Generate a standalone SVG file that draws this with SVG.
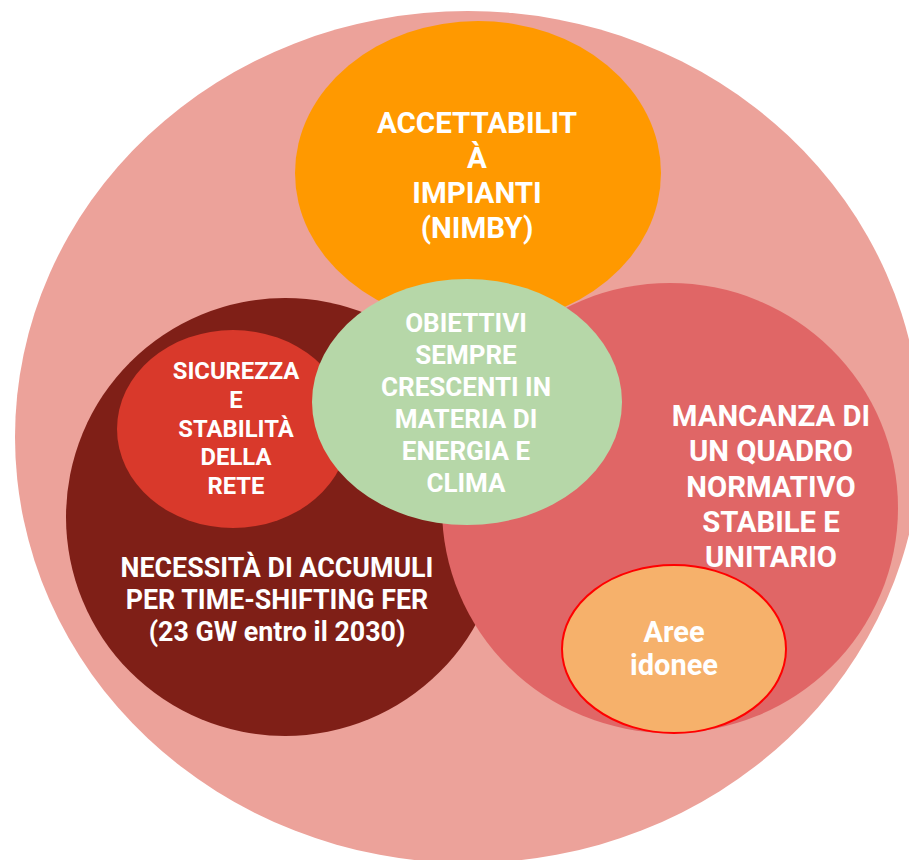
<svg xmlns="http://www.w3.org/2000/svg" width="909" height="860" viewBox="0 0 909 860">
<style>
text{font-family:Roboto,"Liberation Sans",sans-serif;font-weight:bold;fill:#ffffff;text-anchor:middle}
</style>
<rect width="909" height="860" fill="#ffffff"/>
<g id="outer"><ellipse cx="468" cy="437" rx="453" ry="426" fill="#ECA29A"/></g>
<g id="accettabilita">
<ellipse cx="478" cy="173" rx="183" ry="152" fill="#FF9900"/>
<text font-size="29.5"><tspan x="477" y="133">ACCETTABILIT</tspan><tspan x="477" y="168">À</tspan><tspan x="477" y="203">IMPIANTI</tspan><tspan x="477" y="238">(NIMBY)</tspan></text>
</g>
<g id="necessita">
<ellipse cx="285" cy="517" rx="219" ry="219" fill="#7F1F17"/>
<text font-size="26.8"><tspan x="277" y="577">NECESSITÀ DI ACCUMULI</tspan><tspan x="277" y="609">PER TIME-SHIFTING FER</tspan><tspan x="277" y="641">(23 GW entro il 2030)</tspan></text>
</g>
<g id="sicurezza">
<ellipse cx="233" cy="429" rx="116" ry="99" fill="#D9392B"/>
<text font-size="23.8"><tspan x="236" y="379">SICUREZZA</tspan><tspan x="236" y="408">E</tspan><tspan x="236" y="437">STABILITÀ</tspan><tspan x="236" y="465">DELLA</tspan><tspan x="236" y="494">RETE</tspan></text>
</g>
<g id="mancanza">
<ellipse cx="670" cy="508" rx="228" ry="225" fill="#E06666"/>
<text font-size="29.3"><tspan x="771" y="426">MANCANZA DI</tspan><tspan x="771" y="461">UN QUADRO</tspan><tspan x="771" y="497">NORMATIVO</tspan><tspan x="771" y="532">STABILE E</tspan><tspan x="771" y="567">UNITARIO</tspan></text>
</g>
<g id="aree">
<ellipse cx="674" cy="649" rx="112" ry="84" fill="#F6B16B" stroke="#FF0000" stroke-width="2"/>
<text font-size="29"><tspan x="674" y="642">Aree</tspan><tspan x="674" y="675">idonee</tspan></text>
</g>
<g id="obiettivi">
<ellipse cx="467" cy="402" rx="155" ry="123" fill="#B6D7A8"/>
<text font-size="26"><tspan x="466" y="332">OBIETTIVI</tspan><tspan x="466" y="364">SEMPRE</tspan><tspan x="466" y="396">CRESCENTI IN</tspan><tspan x="466" y="428">MATERIA DI</tspan><tspan x="466" y="460">ENERGIA E</tspan><tspan x="466" y="492">CLIMA</tspan></text>
</g>
<g id="connectors"/>
</svg>
